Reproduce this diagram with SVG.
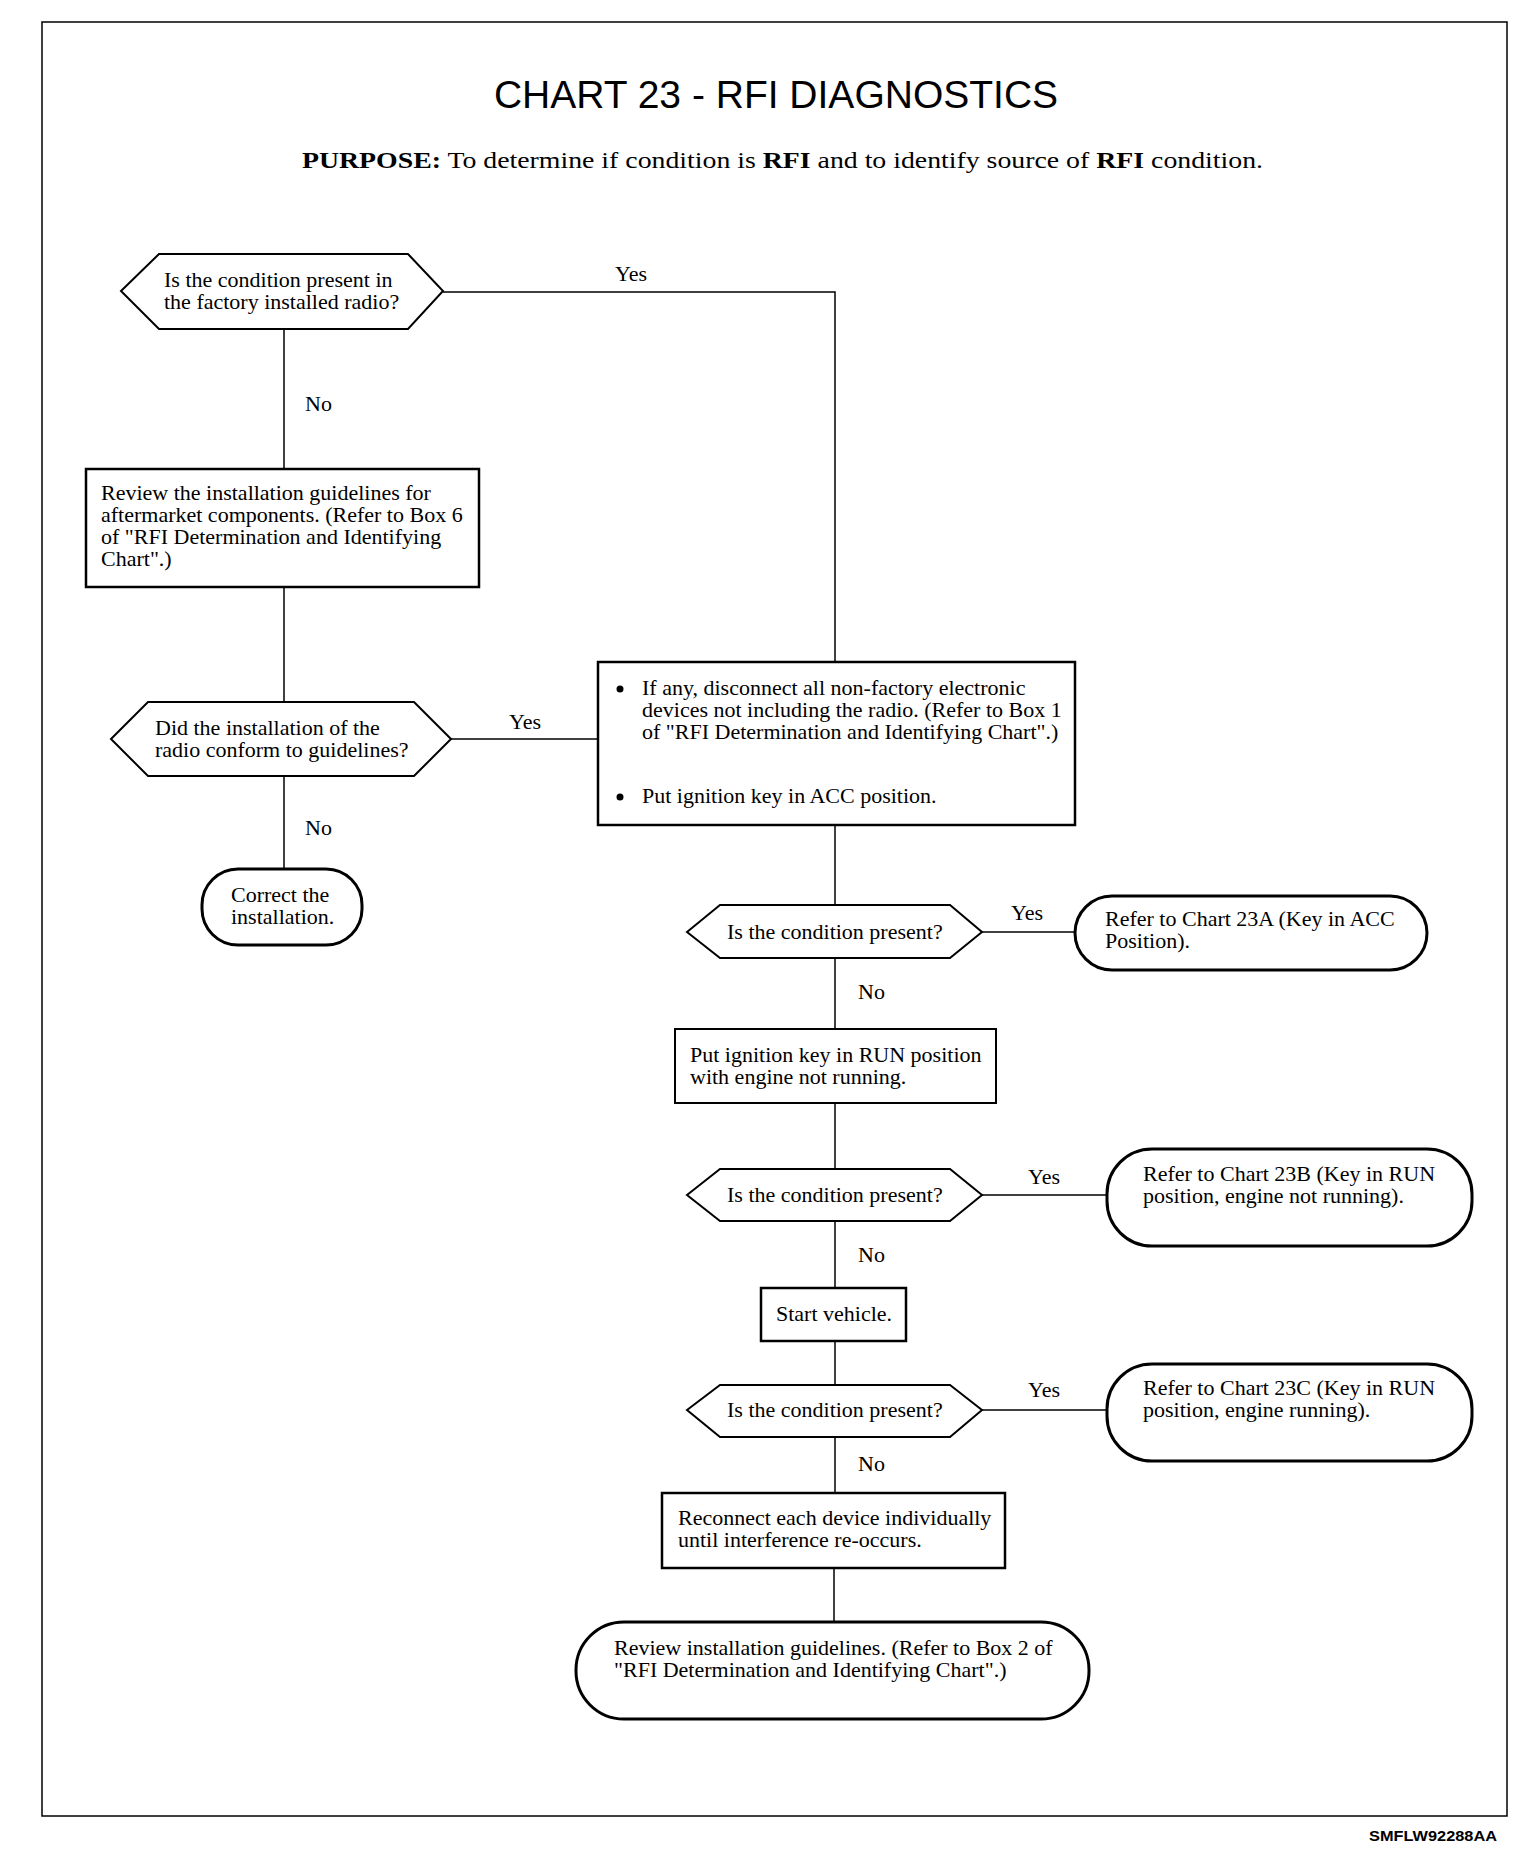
<svg xmlns="http://www.w3.org/2000/svg" width="1536" height="1872" viewBox="0 0 1536 1872">
<style>
.t{font-family:"Liberation Serif","Times New Roman",serif;font-size:22px;fill:#000}
.lbl{font-family:"Liberation Serif","Times New Roman",serif;font-size:22px;fill:#000}
.box{fill:#fff;stroke:#000;stroke-width:2.5}
.box2{fill:#fff;stroke:#000;stroke-width:2}
.dia{fill:#fff;stroke:#000;stroke-width:2}
.term{fill:#fff;stroke:#000;stroke-width:3}
.con{fill:none;stroke:#000;stroke-width:1.5}
</style>
<rect x="0" y="0" width="1536" height="1872" fill="#fff"/>
<rect x="42" y="22" width="1465" height="1794" fill="none" stroke="#000" stroke-width="1.5"/>
<text x="776" y="108" text-anchor="middle" font-family="Liberation Sans, Arial, sans-serif" font-size="39">CHART 23 - RFI DIAGNOSTICS</text>
<text x="302" y="168" font-family="Liberation Serif, Times New Roman, serif" font-size="24" textLength="961" lengthAdjust="spacingAndGlyphs"><tspan font-weight="bold">PURPOSE:</tspan> To determine if condition is <tspan font-weight="bold">RFI</tspan> and to identify source of <tspan font-weight="bold">RFI</tspan> condition.</text>

<g id="connectors">
<polyline class="con" points="443,292 835,292 835,662"/>
<line class="con" x1="284" y1="329" x2="284" y2="469"/>
<line class="con" x1="284" y1="587" x2="284" y2="702"/>
<line class="con" x1="451" y1="739" x2="598" y2="739"/>
<line class="con" x1="284" y1="776" x2="284" y2="869"/>
<line class="con" x1="835" y1="825" x2="835" y2="905"/>
<line class="con" x1="982" y1="932" x2="1075" y2="932"/>
<line class="con" x1="835" y1="958" x2="835" y2="1029"/>
<line class="con" x1="835" y1="1103" x2="835" y2="1169"/>
<line class="con" x1="982" y1="1195" x2="1107" y2="1195"/>
<line class="con" x1="835" y1="1221" x2="835" y2="1288"/>
<line class="con" x1="835" y1="1341" x2="835" y2="1385"/>
<line class="con" x1="982" y1="1410" x2="1107" y2="1410"/>
<line class="con" x1="835" y1="1437" x2="835" y2="1493"/>
<line class="con" x1="834" y1="1568" x2="834" y2="1622"/>
<text class="lbl" x="615" y="281">Yes</text>
<text class="lbl" x="305" y="411">No</text>
<text class="lbl" x="509" y="729">Yes</text>
<text class="lbl" x="305" y="835">No</text>
<text class="lbl" x="1011" y="920">Yes</text>
<text class="lbl" x="858" y="999">No</text>
<text class="lbl" x="1028" y="1184">Yes</text>
<text class="lbl" x="858" y="1262">No</text>
<text class="lbl" x="1028" y="1397">Yes</text>
<text class="lbl" x="858" y="1471">No</text>
</g>

<g id="q1">
<polygon class="dia" points="121,291 159,254 408,254 443,291 408,329 159,329"/>
<text class="t" x="164" y="287">Is the condition present in</text>
<text class="t" x="164" y="309">the factory installed radio?</text>
</g>

<g id="review1">
<rect class="box" x="86" y="469" width="393" height="118"/>
<text class="t" x="101" y="500">Review the installation guidelines for</text>
<text class="t" x="101" y="522">aftermarket components. (Refer to Box 6</text>
<text class="t" x="101" y="544">of "RFI Determination and Identifying</text>
<text class="t" x="101" y="566">Chart".)</text>
</g>

<g id="q2">
<polygon class="dia" points="111,739 148,702 414,702 451,739 414,776 148,776"/>
<text class="t" x="155" y="735">Did the installation of the</text>
<text class="t" x="155" y="757">radio conform to guidelines?</text>
</g>

<g id="correct">
<rect class="term" x="202" y="869" width="160" height="76" rx="36" ry="36"/>
<text class="t" x="231" y="902">Correct the</text>
<text class="t" x="231" y="924">installation.</text>
</g>

<g id="disconnect">
<rect class="box" x="598" y="662" width="477" height="163"/>
<circle cx="620" cy="689" r="3.5"/>
<text class="t" x="642" y="695">If any, disconnect all non-factory electronic</text>
<text class="t" x="642" y="717">devices not including the radio. (Refer to Box 1</text>
<text class="t" x="642" y="739">of "RFI Determination and Identifying Chart".)</text>
<circle cx="620" cy="797" r="3.5"/>
<text class="t" x="642" y="803">Put ignition key in ACC position.</text>
</g>

<g id="q3">
<polygon class="dia" points="687,932 720,905 950,905 982,932 950,958 720,958"/>
<text class="t" x="727" y="939">Is the condition present?</text>
</g>

<g id="chart23a">
<rect class="term" x="1075" y="896" width="352" height="74" rx="37" ry="37"/>
<text class="t" x="1105" y="926">Refer to Chart 23A (Key in ACC</text>
<text class="t" x="1105" y="948">Position).</text>
</g>

<g id="run">
<rect class="box2" x="675" y="1029" width="321" height="74"/>
<text class="t" x="690" y="1062">Put ignition key in RUN position</text>
<text class="t" x="690" y="1084">with engine not running.</text>
</g>

<g id="q4">
<polygon class="dia" points="687,1195 720,1169 950,1169 982,1195 950,1221 720,1221"/>
<text class="t" x="727" y="1202">Is the condition present?</text>
</g>

<g id="chart23b">
<rect class="term" x="1107" y="1149" width="365" height="97" rx="45" ry="45"/>
<text class="t" x="1143" y="1181">Refer to Chart 23B (Key in RUN</text>
<text class="t" x="1143" y="1203">position, engine not running).</text>
</g>

<g id="start">
<rect class="box" x="761" y="1288" width="145" height="53"/>
<text class="t" x="776" y="1321">Start vehicle.</text>
</g>

<g id="q5">
<polygon class="dia" points="687,1410 720,1385 950,1385 982,1410 950,1437 720,1437"/>
<text class="t" x="727" y="1417">Is the condition present?</text>
</g>

<g id="chart23c">
<rect class="term" x="1107" y="1364" width="365" height="97" rx="45" ry="45"/>
<text class="t" x="1143" y="1395">Refer to Chart 23C (Key in RUN</text>
<text class="t" x="1143" y="1417">position, engine running).</text>
</g>

<g id="reconnect">
<rect class="box" x="662" y="1493" width="343" height="75"/>
<text class="t" x="678" y="1525">Reconnect each device individually</text>
<text class="t" x="678" y="1547">until interference re-occurs.</text>
</g>

<g id="review2">
<rect class="term" x="576" y="1622" width="513" height="97" rx="48" ry="48"/>
<text class="t" x="614" y="1655">Review installation guidelines. (Refer to Box 2 of</text>
<text class="t" x="614" y="1677">"RFI Determination and Identifying Chart".)</text>
</g>

<text x="1497" y="1841" text-anchor="end" font-family="Liberation Sans, Arial, sans-serif" font-size="15" font-weight="bold" textLength="128" lengthAdjust="spacingAndGlyphs">SMFLW92288AA</text>
</svg>
